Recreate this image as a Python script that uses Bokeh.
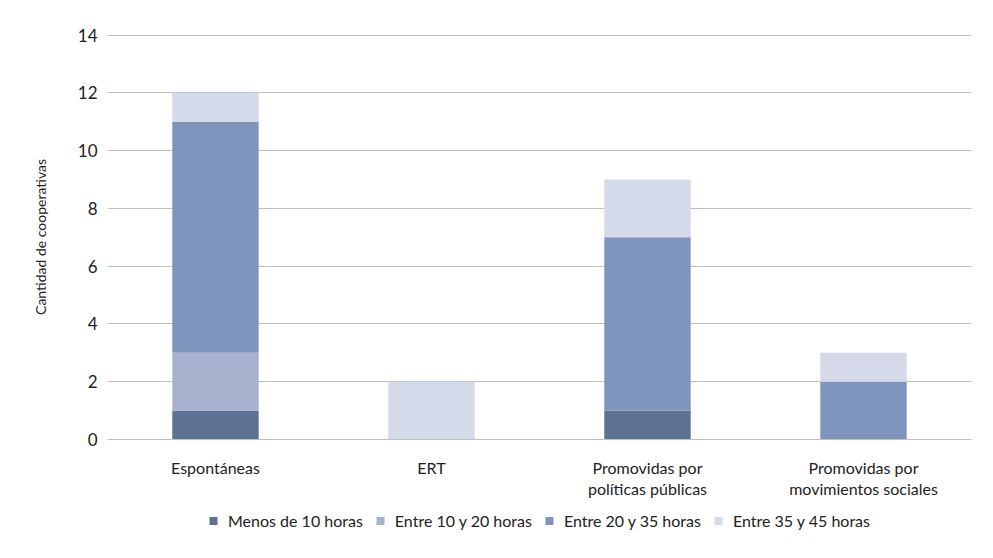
from bokeh.plotting import figure
from bokeh.layouts import column
from bokeh.models import Range1d, Legend, LegendItem, LinearAxis, FixedTicker
from bokeh.embed import file_html
from bokeh.resources import INLINE

categories = ["Espontáneas", "ERT", "Promovidas por políticas públicas", "Promovidas por movimientos sociales"]
label_line1 = ["Espontáneas", "ERT", "Promovidas por", "Promovidas por"]
label_line2 = ["", "", "políticas públicas", "movimientos sociales"]
series_names = ["Menos de 10 horas", "Entre 10 y 20 horas", "Entre 20 y 35 horas", "Entre 35 y 45 horas"]
menos_10 = [1, 0, 1, 0]
entre_10_20 = [2, 0, 0, 0]
entre_20_35 = [8, 0, 6, 2]
entre_35_45 = [1, 2, 2, 1]
y_ticks = [0, 2, 4, 6, 8, 10, 12, 14]

colors = ["#5e7393", "#a8b2cf", "#8095bd", "#d4dae9"]
FONT = "Lato"
TXT = "#222222"

idx = list(range(len(categories)))
keys = ["s0", "s1", "s2", "s3"]
data = {"x": idx, "cat": categories, "s0": menos_10, "s1": entre_10_20, "s2": entre_20_35, "s3": entre_35_45}

W = 985
p = figure(x_range=Range1d(-0.5, len(categories) - 0.5), y_range=Range1d(0, 14.02),
           x_axis_location=None,
           width=W, height=500, output_backend="svg", toolbar_location=None,
           min_border_left=107, min_border_right=14, min_border_top=34, min_border_bottom=0)

renderers = p.vbar_stack(keys, x="x", width=0.4, color=colors, source=data, line_color=None)

p.outline_line_color = None
p.xgrid.grid_line_color = None
p.ygrid.grid_line_color = "#c0c0c0"
p.ygrid.grid_line_width = 1
p.ygrid.ticker = FixedTicker(ticks=y_ticks)
p.yaxis.ticker = FixedTicker(ticks=y_ticks)
p.yaxis.axis_line_color = None
p.yaxis.major_tick_line_color = None
p.yaxis.minor_tick_line_color = None
p.yaxis.major_label_text_font = FONT
p.yaxis.major_label_text_font_size = "17px"
p.yaxis.major_label_text_color = TXT
p.yaxis.major_label_standoff = 4
p.yaxis.axis_label = "Cantidad de cooperativas"
p.yaxis.axis_label_text_font = FONT
p.yaxis.axis_label_text_font_size = "14px"
p.yaxis.axis_label_text_font_style = "normal"
p.yaxis.axis_label_text_color = TXT
p.yaxis.axis_label_standoff = 26

ax1 = LinearAxis(ticker=FixedTicker(ticks=idx),
                 major_label_overrides={i: l for i, l in zip(idx, label_line1)},
                 axis_line_color="#c0c0c0", major_tick_line_color=None, minor_tick_line_color=None,
                 major_label_text_font=FONT, major_label_text_font_size="16px",
                 major_label_text_color=TXT, major_label_standoff=12)
p.add_layout(ax1, "below")

idx2 = [i for i, l in zip(idx, label_line2) if l]
ax2 = LinearAxis(ticker=FixedTicker(ticks=idx2),
                 major_label_overrides={i: label_line2[i] for i in idx2},
                 axis_line_color=None, major_tick_line_color=None, minor_tick_line_color=None,
                 major_label_text_font=FONT, major_label_text_font_size="16px",
                 major_label_text_color=TXT, major_label_standoff=-7)
p.add_layout(ax2, "below")

# legend row: a second figure whose bars lie outside its view, so only the legend shows
q = figure(x_range=p.x_range, y_range=Range1d(100, 101), x_axis_location=None, y_axis_location=None,
           width=W, height=40, output_backend="svg", toolbar_location=None,
           min_border_left=107, min_border_right=14, min_border_top=0, min_border_bottom=0)
q.outline_line_color = None
q.xgrid.visible = False
q.ygrid.visible = False
q_renderers = q.vbar_stack(keys, x="x", width=0.4, color=colors, source=data, line_color=None)

legend = Legend(items=[LegendItem(label=n, renderers=[r]) for n, r in zip(series_names, q_renderers)],
                orientation="horizontal", location="center",
                label_text_font=FONT, label_text_font_size="16px", label_text_color=TXT,
                glyph_width=10, glyph_height=10, spacing=12, label_standoff=10,
                border_line_color=None, background_fill_alpha=0, margin=0, padding=4)
q.add_layout(legend, "center")

open("out.html", "w").write(file_html(column(p, q), INLINE))
